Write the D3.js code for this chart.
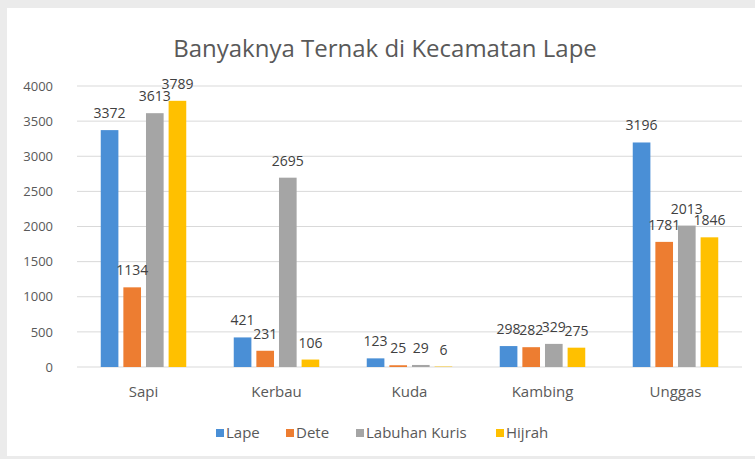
<!DOCTYPE html>
<html lang="id">
<head>
<meta charset="UTF-8" />
<title>Banyaknya Ternak di Kecamatan Lape</title>
<script src="https://d3js.org/d3.v7.min.js"></script>
<style>
  body { margin: 0; background: #ebebeb; }
  text { font-family: "Open Sans", "Noto Sans", sans-serif; }
</style>
</head>
<body>
<svg width="755" height="459"></svg>
<script>
// data
var categories = ['Sapi', 'Kerbau', 'Kuda', 'Kambing', 'Unggas']
var seriesNames = ['Lape', 'Dete', 'Labuhan Kuris', 'Hijrah']
var lape = [3372, 421, 123, 298, 3196]
var dete = [1134, 231, 25, 282, 1781]
var labuhanKuris = [3613, 2695, 29, 329, 2013]
var hijrah = [3789, 106, 6, 275, 1846]
var yTicks = [0, 500, 1000, 1500, 2000, 2500, 3000, 3500, 4000]
var colors = ['#4a8fd6', '#ed7d31', '#a5a5a5', '#ffc000']

var seriesValues = [lape, dete, labuhanKuris, hijrah]

var svg = d3.select('svg')
svg.append('rect').attr('x', 7).attr('y', 8).attr('width', 748).attr('height', 448).attr('fill', '#fff')

var plotLeft = 77, plotRight = 742, plotTop = 86, plotBottom = 367

var x0 = d3.scaleBand().domain(categories).range([plotLeft, plotRight])
var x1 = d3.scaleBand().domain(seriesNames).range([0, x0.bandwidth()]).paddingInner(0.22).paddingOuter(1.05)
var y = d3.scaleLinear().domain([0, 4000]).range([plotBottom, plotTop])

// title
svg.append('text')
  .attr('x', 385).attr('y', 57)
  .attr('text-anchor', 'middle')
  .attr('font-size', 24)
  .attr('fill', '#595959')
  .text('Banyaknya Ternak di Kecamatan Lape')

// gridlines
svg.append('g').selectAll('line').data(yTicks).enter().append('line')
  .attr('x1', plotLeft).attr('x2', plotRight)
  .attr('y1', function (d) { return y(d) }).attr('y2', function (d) { return y(d) })
  .attr('stroke', '#d9d9d9').attr('stroke-width', 1)

// y axis
var yAxis = svg.append('g').attr('transform', 'translate(' + (plotLeft - 22) + ',0)')
  .call(d3.axisLeft(y).tickValues(yTicks).tickFormat(d3.format('d')).tickSize(0).tickPadding(2))
yAxis.select('.domain').remove()
yAxis.selectAll('text').attr('font-size', 13).attr('fill', '#595959').style('font-family', '"Open Sans", sans-serif')

// x axis labels
var xAxis = svg.append('g').attr('transform', 'translate(0,' + (plotBottom + 16) + ')')
  .call(d3.axisBottom(x0).tickSize(0))
xAxis.select('.domain').remove()
xAxis.selectAll('text').attr('font-size', 15).attr('fill', '#595959').style('font-family', '"Open Sans", sans-serif')

// bars
var groups = svg.append('g').selectAll('g').data(categories).enter().append('g')
  .attr('transform', function (d) { return 'translate(' + x0(d) + ',0)' })

groups.each(function (cat, ci) {
  var g = d3.select(this)
  var rows = seriesNames.map(function (s, si) { return { s: s, si: si, v: seriesValues[si][ci] } })
  g.selectAll('rect').data(rows).enter().append('rect')
    .attr('x', function (d) { return x1(d.s) })
    .attr('width', x1.bandwidth())
    .attr('y', function (d) { return y(d.v) })
    .attr('height', function (d) { return plotBottom - y(d.v) })
    .attr('fill', function (d) { return colors[d.si] })
  g.selectAll('text').data(rows).enter().append('text')
    .attr('x', function (d) { return x1(d.s) + x1.bandwidth() / 2 })
    .attr('y', function (d) { return y(d.v) - 12 })
    .attr('text-anchor', 'middle')
    .attr('font-size', 14)
    .attr('fill', '#404040')
    .text(function (d) { return d.v })
})

// legend
var legendX = [216, 286, 356, 496]
var legend = svg.append('g').selectAll('g').data(seriesNames).enter().append('g')
  .attr('transform', function (d, i) { return 'translate(' + legendX[i] + ',433)' })
legend.append('rect').attr('x', 0).attr('y', -4).attr('width', 8).attr('height', 8)
  .attr('fill', function (d, i) { return colors[i] })
legend.append('text').attr('x', 10).attr('y', 5).attr('font-size', 15).attr('fill', '#595959')
  .text(function (d) { return d })
</script>
</body>
</html>
